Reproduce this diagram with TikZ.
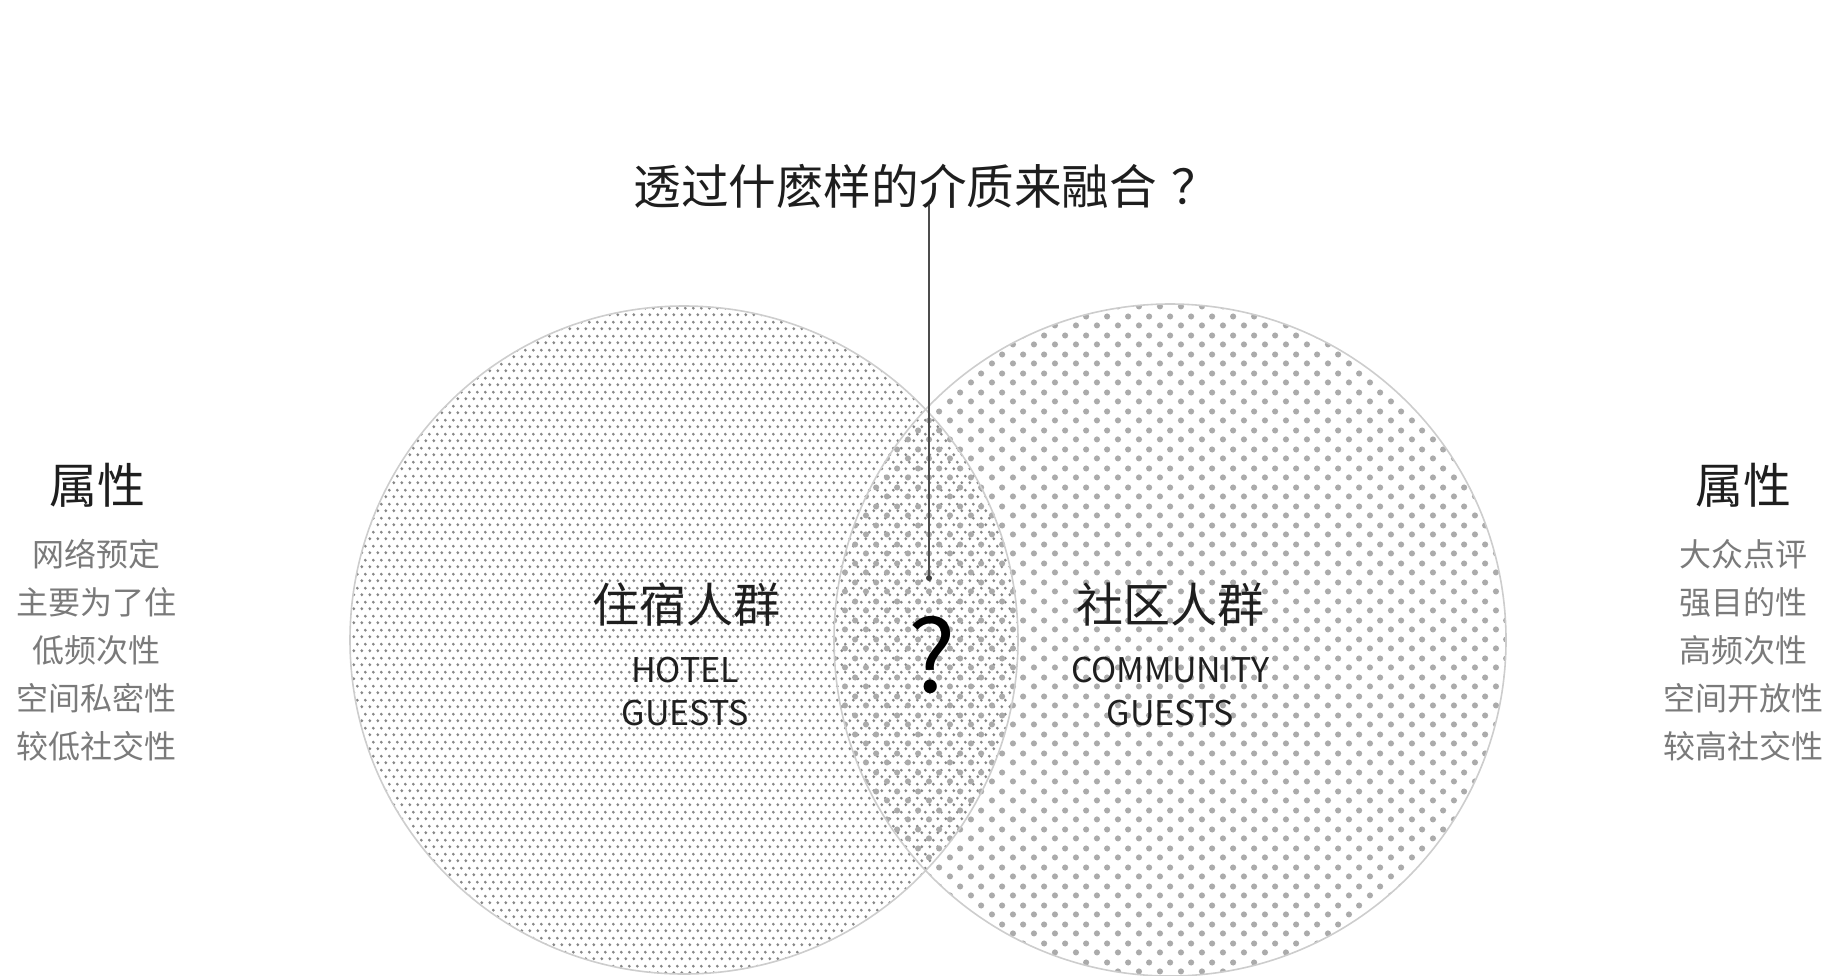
\documentclass[tikz,border=0pt]{standalone}
\usepackage{fontspec}
\setmainfont{Noto Sans CJK SC}
\usetikzlibrary{patterns.meta}

\definecolor{dotgrey}{HTML}{9C9C9C}
\definecolor{finegrey}{HTML}{888888}
\definecolor{rimgrey}{HTML}{CDCDCD}
\definecolor{itemgrey}{HTML}{7A7A7A}
\definecolor{inkblack}{HTML}{1E1E1E}

% fine dots for the hotel side, coarse dots for the community side
\tikzdeclarepattern{
  name=hoteldots, type=colored,
  bottom left={(0pt,0pt)}, top right={(4pt,7pt)},
  tile size={(4pt,7pt)},
  code={
    \fill[finegrey] (1pt,1.75pt) circle (0.85pt);
    \fill[finegrey] (3pt,5.25pt) circle (0.85pt);
  }
}
\tikzdeclarepattern{
  name=communitydots, type=colored,
  bottom left={(0pt,0pt)}, top right={(10.5pt,9.5pt)},
  tile size={(10.5pt,9.5pt)},
  code={
    \fill[dotgrey!85] (2.6pt,2.4pt) circle (1.6pt);
    \fill[dotgrey!85] (7.9pt,7.1pt) circle (1.6pt);
  }
}

\tikzset{
  group/.style={draw=rimgrey, line width=0.8pt},
  heading/.style={text=inkblack, font=\fontsize{24}{28}\selectfont},
  props/.style={text=itemgrey, align=center, font=\fontsize{16}{24}\selectfont},
  cjklabel/.style={text=inkblack, font=\fontsize{23.5}{28}\selectfont},
  enlabel/.style={text=inkblack, align=center, font=\fontsize{17}{21.5}\selectfont},
}

\begin{document}
\begin{tikzpicture}[x=0.5pt,y=-0.5pt]
\useasboundingbox (0,0) rectangle (1840,975);

% the two groups
\path[pattern={hoteldots}] (684,640) circle (334);
\path[pattern={communitydots}] (1170,640) circle (336);
\draw[group] (684,640) circle (334);
\draw[group] (1170,640) circle (336);

% question on top
\node[text=inkblack, font=\fontsize{23.8}{28}\selectfont, anchor=west, inner sep=0pt] (question) at (633,186) {透过什麽样的介质来融合\hspace{0.3em}？};
\coordinate (pin) at (929,578);
\draw[draw=black!70, line width=0.75pt] (question.south -| pin) ++(0,-4) -- (pin);
\fill[black!75] (pin) circle (3);
\node[text=black, font=\fontsize{50}{56}\selectfont] (unknown) at (932,655) {?};

% labels in the circles
\node[cjklabel] (hotelcn) at (686,605) {住宿人群};
\node[enlabel] (hotelen) at (685,692) {HOTEL\\GUESTS};
\node[cjklabel] (communitycn) at (1170,605) {社区人群};
\node[enlabel] (communityen) at (1170,692) {COMMUNITY\\GUESTS};

% attributes at both sides
\node[heading] (lefthead) at (97,485) {属性};
\node[props] (leftprops) at (97,650) {网络预定\\主要为了住\\低频次性\\空间私密性\\较低社交性};
\node[heading] (righthead) at (1743,485) {属性};
\node[props] (rightprops) at (1743,650) {大众点评\\强目的性\\高频次性\\空间开放性\\较高社交性};
\end{tikzpicture}
\end{document}
